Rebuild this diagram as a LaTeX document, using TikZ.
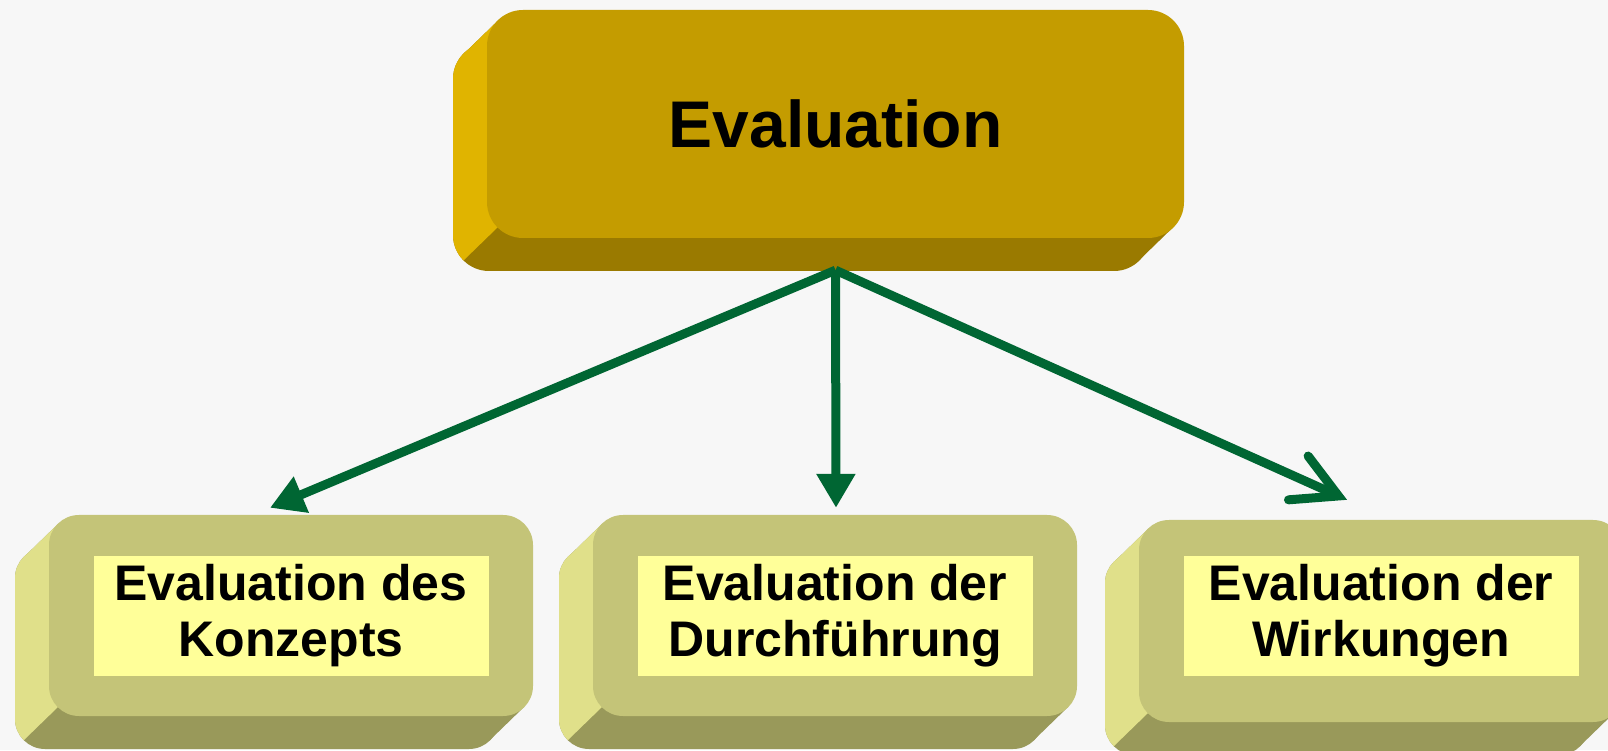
\documentclass[tikz,border=0pt]{standalone}
\usepackage{fontspec}
\setmainfont{Liberation Sans}
\usetikzlibrary{arrows.meta,calc}

\definecolor{backdrop}{HTML}{F7F7F7}
\definecolor{goldfront}{HTML}{C49C00}
\definecolor{goldside}{HTML}{E0B400}
\definecolor{goldbottom}{HTML}{9A7A00}
\definecolor{olivefront}{HTML}{C4C478}
\definecolor{oliveside}{HTML}{E0E08A}
\definecolor{olivebottom}{HTML}{99995A}
\definecolor{paleyellow}{HTML}{FFFF99}
\definecolor{arrowgreen}{HTML}{006633}

%SLAB BEHIND A FACE: centre x, centre y, width, height, radius, side colour, bottom colour
\newcommand{\slab}[7]{%
  \pgfmathsetmacro{\xa}{#1-#3/2}\pgfmathsetmacro{\xb}{#1+#3/2}%
  \pgfmathsetmacro{\ya}{#2-#4/2}\pgfmathsetmacro{\yb}{#2+#4/2}%
  \pgfmathsetmacro{\rr}{0.3*#5}%
  \fill[#7,rounded corners=#5pt] (\xa-34,\ya-33) rectangle (\xb-34,\yb-33);
  \fill[#7] (\xa+\rr,\yb-\rr) -- (\xb-\rr,\ya+\rr) -- (\xb-\rr-34,\ya+\rr-33) -- (\xa+\rr-34,\yb-\rr-33) -- cycle;
  \begin{scope}
    \clip (\xa+\rr-68,\ya+\rr-66) -- (\xa+\rr+272,\ya+\rr+264) -- (\xa+\rr-328,\ya+\rr+864) -- (\xa+\rr-668,\ya+\rr+534) -- cycle;
    \fill[#6,rounded corners=#5pt] (\xa-34,\ya-33) rectangle (\xb-34,\yb-33);
    \fill[#6] (\xa+\rr,\yb-\rr) -- (\xb-\rr,\ya+\rr) -- (\xb-\rr-34,\ya+\rr-33) -- (\xa+\rr-34,\yb-\rr-33) -- cycle;
  \end{scope}%
}

\begin{document}
\begin{tikzpicture}[x=1pt,y=1pt,
  topface/.style={fill=goldfront,rounded corners=36pt,minimum width=697pt,minimum height=228pt,
    font=\fontsize{66}{79}\selectfont\bfseries},
  lowface/.style={fill=olivefront,rounded corners=30pt,minimum width=484pt,minimum height=201pt},
  lowlabel/.style={fill=paleyellow,minimum width=395pt,minimum height=120pt,inner sep=0pt,align=center,
    font=\fontsize{50}{56}\selectfont\bfseries},
  link/.style={draw=arrowgreen,line width=9pt}]
	%\draw[help lines] (0,0) grid[step=100] (1608,750);
	\useasboundingbox (0,0) rectangle (1608,750);
	\clip (0,0) rectangle (1608,750);
	\fill[backdrop] (0,0) rectangle (1608,750);

	%SLABS
	\slab{835.5}{626}{697}{228}{36}{goldside}{goldbottom}
	\slab{291}{134.5}{484}{201}{30}{oliveside}{olivebottom}
	\slab{835}{134.5}{484}{201}{30}{oliveside}{olivebottom}
	\slab{1381}{129}{484}{202}{30}{oliveside}{olivebottom}

	%FACES
	\node[topface] (eval) at (835.5,626) {Evaluation};
	\node[lowface] (konzeptface) at (291,134.5) {};
	\node[lowface] (durchfuehrungface) at (835,134.5) {};
	\node[lowface,minimum height=202pt] (wirkungface) at (1381,129) {};
	\node[lowlabel] (konzept) at (konzeptface) {Evaluation des\\Konzepts};
	\node[lowlabel] (durchfuehrung) at (durchfuehrungface) {Evaluation der\\Durchführung};
	\node[lowlabel] (wirkung) at ([yshift=5.5pt]wirkungface.center) {Evaluation der\\Wirkungen};

	%ARROWS
	\coordinate (evalfoot) at ([yshift=-32pt]eval.south);
	\draw[link,-{Triangle[length=34pt,width=37pt]}] (evalfoot) -- ([shift={(-21pt,7pt)}]konzeptface.north);
	\draw[link,-{Triangle[length=34pt,width=37pt]}] (evalfoot) -- ([shift={(1pt,7pt)}]durchfuehrungface.north);
	\draw[link,-{Straight Barb[length=44pt,width=48pt,line cap=round,line join=miter]}] (evalfoot) -- ([shift={(-34pt,20pt)}]wirkungface.north);
\end{tikzpicture}
\end{document}
